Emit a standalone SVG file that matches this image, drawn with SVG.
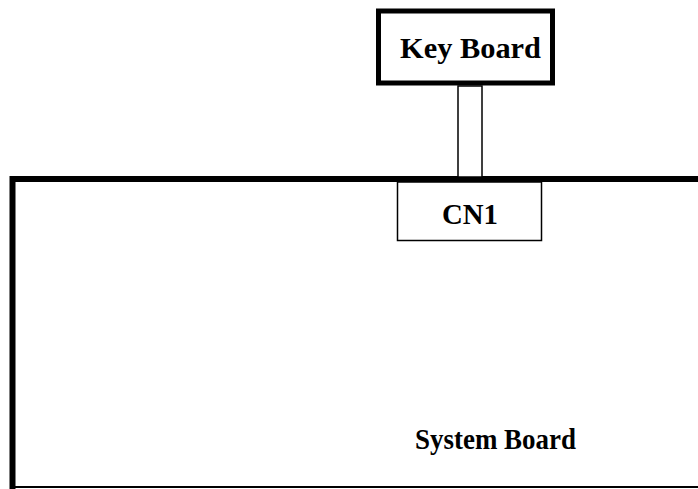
<svg xmlns="http://www.w3.org/2000/svg" width="698" height="489" viewBox="0 0 698 489">
<style>
.lbl{font-family:"Liberation Serif","Times New Roman",serif;font-weight:bold;font-size:30px;fill:#000}
.thin{fill:#fff;stroke:#000;stroke-width:1.5}
</style>
<rect width="698" height="489" fill="#fff"/>
<g id="system-board">
<path d="M12.5 489 V179 H698" fill="none" stroke="#000" stroke-width="6"/>
<line x1="10" y1="487" x2="698" y2="487" stroke="#000" stroke-width="2"/>
<text class="lbl" x="415" y="449" textLength="161" lengthAdjust="spacingAndGlyphs">System Board</text>
</g>
<g id="connectors">
<rect class="thin" x="458" y="86" width="24" height="91"/>
</g>
<g id="keyboard">
<rect x="378.5" y="11" width="174" height="72" fill="#fff" stroke="#000" stroke-width="5"/>
<text class="lbl" x="400" y="58" textLength="141" lengthAdjust="spacingAndGlyphs">Key Board</text>
</g>
<g id="cn1">
<rect class="thin" x="397.5" y="182" width="144" height="58.5"/>
<text class="lbl" x="442" y="224" textLength="56" lengthAdjust="spacingAndGlyphs">CN1</text>
</g>
</svg>
